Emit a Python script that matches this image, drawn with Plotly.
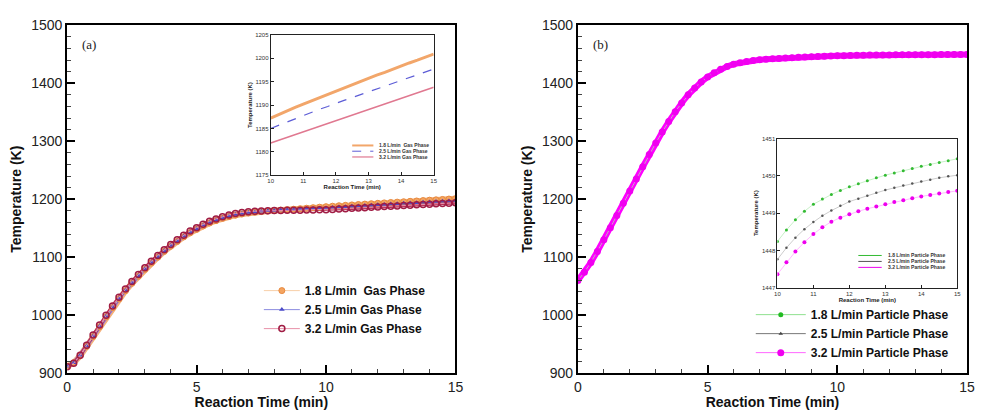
import plotly.graph_objects as go

time_min = [0, 0.25, 0.5, 0.75, 1, 1.25, 1.5, 1.75, 2, 2.25, 2.5, 2.75, 3, 3.25, 3.5, 3.75,
            4, 4.25, 4.5, 4.75, 5, 5.25, 5.5, 5.75, 6, 6.25, 6.5, 6.75, 7, 7.25, 7.5, 7.75,
            8, 8.25, 8.5, 8.75, 9, 9.25, 9.5, 9.75, 10, 10.25, 10.5, 10.75, 11, 11.25, 11.5,
            11.75, 12, 12.25, 12.5, 12.75, 13, 13.25, 13.5, 13.75, 14, 14.25, 14.5, 14.75, 15]

gas_18 = [912, 918, 930, 946, 963, 980, 997, 1013, 1028, 1042, 1055, 1067, 1079, 1090, 1100, 1110,
          1119, 1127, 1135, 1142, 1148, 1154, 1159, 1163, 1167, 1170, 1172.5, 1174.5, 1176.3, 1177.6,
          1178.7, 1179.6, 1180.4, 1181.2, 1182.0, 1182.8, 1183.6, 1184.5, 1185.4, 1186.3, 1187.2,
          1188.0, 1188.8, 1189.5, 1190.2, 1190.9, 1191.6, 1192.3, 1193.0, 1193.7, 1194.4, 1195.0,
          1195.7, 1196.4, 1197.0, 1197.7, 1198.4, 1199.0, 1199.6, 1200.3, 1200.9]
gas_25 = [912, 918, 931, 947, 964, 981, 998, 1014, 1029, 1043, 1056, 1068, 1080, 1091, 1101, 1111,
          1120, 1128, 1136, 1143, 1149, 1155, 1160, 1164, 1168, 1171, 1173.5, 1175.5, 1177, 1178.2,
          1179.2, 1180.0, 1180.7, 1181.3, 1181.9, 1182.5, 1183.0, 1183.5, 1184.0, 1184.5, 1185.0,
          1185.7, 1186.4, 1187.1, 1187.8, 1188.4, 1189.1, 1189.7, 1190.4, 1191.0, 1191.6, 1192.2,
          1192.9, 1193.5, 1194.1, 1194.7, 1195.3, 1195.9, 1196.5, 1197.1, 1197.7]
gas_32 = [911, 917, 931, 948, 966, 983, 1000, 1016, 1031, 1045, 1058, 1070, 1082, 1093, 1103, 1113,
          1122, 1130, 1138, 1145, 1151, 1157, 1162, 1166, 1170, 1173, 1175.5, 1177.3, 1178.6, 1179.4,
          1179.9, 1180.2, 1180.4, 1180.6, 1180.8, 1181.0, 1181.2, 1181.4, 1181.6, 1181.8, 1181.9,
          1182.5, 1183.1, 1183.7, 1184.3, 1184.9, 1185.5, 1186.1, 1186.7, 1187.3, 1187.9, 1188.5,
          1189.1, 1189.7, 1190.3, 1190.9, 1191.5, 1192.1, 1192.6, 1193.2, 1193.8]

part_18 = [1060, 1074, 1091, 1110, 1130, 1151, 1172, 1193, 1214, 1235, 1256, 1277, 1297, 1316, 1334,
           1351, 1366, 1380, 1392, 1402, 1411, 1418, 1424, 1429, 1433, 1435.5, 1437.5, 1439.2,
           1440.5, 1441.5, 1442.4, 1443.3, 1444.1, 1444.8, 1445.5, 1446.1, 1446.6, 1447.1, 1447.5,
           1447.9, 1448.24, 1448.55, 1448.82, 1449.05, 1449.24, 1449.38, 1449.50, 1449.61, 1449.71,
           1449.79, 1449.87, 1449.95, 1450.02, 1450.08, 1450.14, 1450.20, 1450.26, 1450.31, 1450.36,
           1450.41, 1450.46]
part_25 = [1060, 1074, 1091, 1110, 1130, 1151, 1172, 1193, 1214, 1235, 1256, 1277, 1297, 1316, 1334,
           1351, 1366, 1380, 1392, 1402, 1411, 1418, 1424, 1429, 1433, 1435.5, 1437.5, 1439.2,
           1440.5, 1441.45, 1442.3, 1443.1, 1443.85, 1444.5, 1445.1, 1445.65, 1446.15, 1446.6, 1447.0,
           1447.4, 1447.76, 1448.07, 1448.34, 1448.57, 1448.76, 1448.93, 1449.07, 1449.20, 1449.31,
           1449.39, 1449.47, 1449.55, 1449.62, 1449.68, 1449.74, 1449.80, 1449.85, 1449.90, 1449.95,
           1449.99, 1450.02]
part_32 = [1060, 1074, 1091, 1110, 1130, 1151, 1172, 1193, 1214, 1235, 1256, 1277, 1297, 1316, 1334,
           1351, 1366, 1380, 1392, 1402, 1411, 1418, 1424, 1429, 1433, 1435.5, 1437.5, 1439.2,
           1440.5, 1441.4, 1442.2, 1442.9, 1443.6, 1444.2, 1444.8, 1445.3, 1445.8, 1446.2, 1446.6,
           1447.0, 1447.36, 1447.68, 1447.97, 1448.22, 1448.44, 1448.62, 1448.77, 1448.88, 1448.97,
           1449.05, 1449.12, 1449.18, 1449.24, 1449.30, 1449.35, 1449.40, 1449.45, 1449.49, 1449.53,
           1449.57, 1449.60]

gas_names = ["1.8 L/min  Gas Phase", "2.5 L/min Gas Phase", "3.2 L/min Gas Phase"]
part_names = ["1.8 L/min Particle Phase", "2.5 L/min Particle Phase", "3.2 L/min Particle Phase"]

INSET_START = 40  # index of t = 10 min

W, H = 983, 410
def px(x):
    return x / W
def py(y):
    return (H - y) / H

SANS = "Liberation Sans, Arial, sans-serif"
SERIF = "Liberation Serif, Times New Roman, serif"

fig = go.Figure()


def band(x, y, color, width, xa, ya):
    # dense-marker band look (drawn under the marker trace)
    fig.add_trace(go.Scatter(x=x, y=y, mode="lines", showlegend=False, hoverinfo="skip",
                             line=dict(color=color, width=width), xaxis=xa, yaxis=ya))


# ---- (a) main ----
band(time_min, gas_18, "#f4b07a", 6, "x", "y")
band(time_min, gas_25, "#8c7ad8", 4, "x", "y")
band(time_min, gas_32, "#b83058", 3.5, "x", "y")
fig.add_trace(go.Scatter(x=time_min, y=gas_18, name=gas_names[0], mode="lines+markers",
                         line=dict(color="#f8cfa8", width=1),
                         marker=dict(symbol="circle", size=6, color="#f4a460",
                                     line=dict(color="#e88a40", width=1)),
                         xaxis="x", yaxis="y", legend="legend"))
fig.add_trace(go.Scatter(x=time_min, y=gas_25, name=gas_names[1], mode="lines+markers",
                         line=dict(color="#8c8ce0", width=1),
                         marker=dict(symbol="triangle-up", size=5, color="#4b4bc8"),
                         xaxis="x", yaxis="y", legend="legend"))
fig.add_trace(go.Scatter(x=time_min, y=gas_32, name=gas_names[2], mode="lines+markers",
                         line=dict(color="#e890a8", width=1),
                         marker=dict(symbol="circle-open", size=6, color="#a01c44",
                                     line=dict(width=1.5)),
                         xaxis="x", yaxis="y", legend="legend"))

# ---- (b) main ----
band(time_min, part_32, "#ff00ff", 6, "x2", "y2")
fig.add_trace(go.Scatter(x=time_min, y=part_18, name=part_names[0], mode="lines+markers",
                         line=dict(color="#8fe08f", width=1),
                         marker=dict(symbol="circle", size=5, color="#22bb22"),
                         xaxis="x2", yaxis="y2", legend="legend2"))
fig.add_trace(go.Scatter(x=time_min, y=part_25, name=part_names[1], mode="lines+markers",
                         line=dict(color="#777777", width=1),
                         marker=dict(symbol="triangle-up", size=4, color="#444444"),
                         xaxis="x2", yaxis="y2", legend="legend2"))
fig.add_trace(go.Scatter(x=time_min, y=part_32, name=part_names[2], mode="lines+markers",
                         line=dict(color="#ff66ff", width=1),
                         marker=dict(symbol="circle", size=7, color="#f000f0"),
                         xaxis="x2", yaxis="y2", legend="legend2"))

# ---- (a) inset ----
t_in = time_min[INSET_START:]
fig.add_trace(go.Scatter(x=t_in, y=gas_18[INSET_START:], mode="lines", showlegend=False,
                         line=dict(color="#f2a66a", width=3), xaxis="x3", yaxis="y3"))
fig.add_trace(go.Scatter(x=t_in, y=gas_25[INSET_START:], mode="lines", showlegend=False,
                         line=dict(color="#5c5cd6", width=1.2, dash="dash"), xaxis="x3", yaxis="y3"))
fig.add_trace(go.Scatter(x=t_in, y=gas_32[INSET_START:], mode="lines", showlegend=False,
                         line=dict(color="#e07890", width=1.5), xaxis="x3", yaxis="y3"))

# ---- (b) inset ----
fig.add_trace(go.Scatter(x=t_in, y=part_18[INSET_START:], mode="lines+markers", showlegend=False,
                         line=dict(color="#c8f0c8", width=1),
                         marker=dict(size=3, color="#33bb33"), xaxis="x4", yaxis="y4"))
fig.add_trace(go.Scatter(x=t_in, y=part_25[INSET_START:], mode="lines+markers", showlegend=False,
                         line=dict(color="#cccccc", width=1),
                         marker=dict(size=2.5, color="#555555"), xaxis="x4", yaxis="y4"))
fig.add_trace(go.Scatter(x=t_in, y=part_32[INSET_START:], mode="lines+markers", showlegend=False,
                         line=dict(color="#ffbbff", width=1),
                         marker=dict(size=4, color="#ee00ee"), xaxis="x4", yaxis="y4"))


def main_x(domain, anchor):
    return dict(domain=domain, anchor=anchor, range=[0, 15], dtick=5, tick0=0,
                showline=True, linewidth=2, linecolor="black", mirror=True,
                ticks="inside", ticklen=8, tickwidth=2, tickcolor="black",
                minor=dict(ticks="inside", ticklen=4, tickwidth=1, dtick=1, tickcolor="#444"),
                showgrid=False, zeroline=False,
                tickfont=dict(family=SANS, size=14, color="#222"),
                title=dict(text="Reaction Time (min)", standoff=4,
                           font=dict(family=SANS, size=14, color="#111", weight="bold")))


def main_y(domain, anchor):
    return dict(domain=domain, anchor=anchor, range=[900, 1500], dtick=100, tick0=900,
                showline=True, linewidth=2, linecolor="black", mirror=True,
                ticks="inside", ticklen=8, tickwidth=2, tickcolor="black",
                minor=dict(ticks="inside", ticklen=4, tickwidth=1, dtick=20, tickcolor="#444"),
                showgrid=False, zeroline=False,
                tickfont=dict(family=SANS, size=14, color="#222"),
                title=dict(text="Temperature (K)", standoff=6,
                           font=dict(family=SANS, size=14, color="#111", weight="bold")))


def inset_x(domain, anchor):
    return dict(domain=domain, anchor=anchor, range=[10, 15], dtick=1, tick0=10,
                showline=True, linewidth=1, linecolor="#222", mirror=True,
                ticks="inside", ticklen=3, tickwidth=1, tickcolor="#222",
                showgrid=False, zeroline=False,
                tickfont=dict(family=SANS, size=6, color="#333"),
                title=dict(text="Reaction Time (min)", standoff=1,
                           font=dict(family=SANS, size=6, color="#222", weight="bold")))


def inset_y(domain, anchor, rng, dt):
    return dict(domain=domain, anchor=anchor, range=rng, dtick=dt, tick0=rng[0],
                showline=True, linewidth=1, linecolor="#222", mirror=True,
                ticks="inside", ticklen=3, tickwidth=1, tickcolor="#222",
                showgrid=False, zeroline=False,
                tickfont=dict(family=SANS, size=6, color="#333"),
                title=dict(text="Temperature (K)", standoff=2,
                           font=dict(family=SANS, size=6, color="#222", weight="bold")))


dom_a_x = [px(64), px(457)]
dom_b_x = [px(581), px(975)]
dom_main_y = [py(380), py(18)]
dom_ia_x = [px(270), px(435)]
dom_ia_y = [py(174), py(28)]
dom_ib_x = [px(783), px(965)]
dom_ib_y = [py(291), py(136)]

fig.update_layout(
    width=W, height=H, margin=dict(l=0, r=0, t=0, b=0),
    paper_bgcolor="white", plot_bgcolor="white",
    xaxis=main_x(dom_a_x, "y"), yaxis=main_y(dom_main_y, "x"),
    xaxis2=main_x(dom_b_x, "y2"), yaxis2=main_y(dom_main_y, "x2"),
    xaxis3=inset_x(dom_ia_x, "y3"), yaxis3=inset_y(dom_ia_y, "x3", [1175, 1205], 5),
    xaxis4=inset_x(dom_ib_x, "y4"), yaxis4=inset_y(dom_ib_y, "x4", [1447, 1451], 1),
    legend=dict(x=px(258), xanchor="left", y=py(279), yanchor="top",
                bgcolor="rgba(0,0,0,0)", itemwidth=36, tracegroupgap=0,
                font=dict(family=SANS, size=12, color="#111", weight="bold")),
    legend2=dict(x=px(756), xanchor="left", y=py(304), yanchor="top",
                 bgcolor="rgba(0,0,0,0)", itemwidth=50, tracegroupgap=0,
                 font=dict(family=SANS, size=12, color="#111", weight="bold")),
)

# panel labels
fig.add_annotation(text="(a)", x=px(77), y=py(38), xref="paper", yref="paper",
                   xanchor="left", yanchor="middle", showarrow=False,
                   font=dict(family=SERIF, size=13, color="#222"))
fig.add_annotation(text="(b)", x=px(594), y=py(38), xref="paper", yref="paper",
                   xanchor="left", yanchor="middle", showarrow=False,
                   font=dict(family=SERIF, size=13, color="#222"))

# inset legends (drawn as small keys + text, within the inset frames)
inset_a_keys = [("#f2a66a", 2, "solid"), ("#5c5cd6", 1, "dash"), ("#e07890", 1.2, "solid")]
inset_a_rows = [0.212, 0.171, 0.130]
for (col, wd, dsh), yy, nm in zip(inset_a_keys, inset_a_rows, gas_names):
    fig.add_shape(type="line", xref="x3 domain", yref="y3 domain", x0=0.50, x1=0.63, y0=yy, y1=yy,
                  line=dict(color=col, width=wd, dash=dsh))
    fig.add_annotation(text=nm, xref="x3 domain", yref="y3 domain", x=0.655, y=yy,
                       xanchor="left", yanchor="middle", showarrow=False,
                       font=dict(family=SANS, size=5, color="#333", weight="bold"))

inset_b_keys = [("#33bb33", 1), ("#555555", 1), ("#ee00ee", 1)]
inset_b_rows = [0.216, 0.176, 0.136]
for (col, wd), yy, nm in zip(inset_b_keys, inset_b_rows, part_names):
    fig.add_shape(type="line", xref="x4 domain", yref="y4 domain", x0=0.45, x1=0.58, y0=yy, y1=yy,
                  line=dict(color=col, width=wd))
    fig.add_annotation(text=nm, xref="x4 domain", yref="y4 domain", x=0.605, y=yy,
                       xanchor="left", yanchor="middle", showarrow=False,
                       font=dict(family=SANS, size=5, color="#333", weight="bold"))

fig.write_html("out.html")
